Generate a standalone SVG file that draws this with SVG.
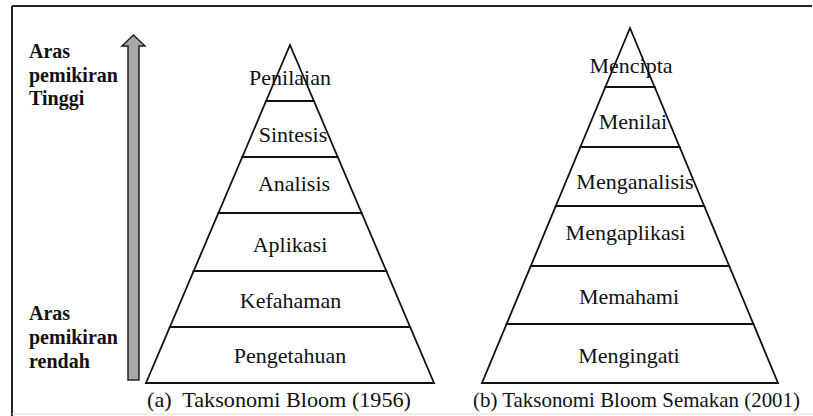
<svg xmlns="http://www.w3.org/2000/svg" width="813" height="416" viewBox="0 0 813 416">
<style>
.lvl{fill:#fff;stroke:#111;stroke-width:1.8;stroke-linejoin:miter}
text{font-family:'Liberation Serif','Times New Roman',Times,'DejaVu Serif',serif;fill:#111}
.t{font-size:22px;text-anchor:middle}
.b{font-size:20px;font-weight:bold}
.cap{font-size:21.5px}
</style>
<rect width="813" height="416" fill="#fff"/>
<g id="frame">
<line x1="12" y1="6" x2="812" y2="6" stroke="#222" stroke-width="2"/>
<line x1="12" y1="6" x2="12" y2="416" stroke="#222" stroke-width="2"/>
<line x1="12" y1="414" x2="813" y2="414" stroke="#ddd" stroke-width="1.2"/>
</g>
<g id="arrow">
<polygon points="133.5,35 145,46 139,46 139,380 128,380 128,46 122,46" fill="#a9a7a7" stroke="#222" stroke-width="1.5"/>
</g>
<g id="label-high">
<text class="b" x="29" y="58">Aras</text>
<text class="b" x="29" y="82">pemikiran</text>
<text class="b" x="29" y="105">Tinggi</text>
</g>
<g id="label-low">
<text class="b" x="29" y="320">Aras</text>
<text class="b" x="29" y="344">pemikiran</text>
<text class="b" x="29" y="368">rendah</text>
</g>
<g id="pyramid-a">
<g id="a-penilaian"><polygon class="lvl" points="290,45 313.9,101 266.1,101"/><text class="t" x="290" y="85">Penilaian</text></g>
<g id="a-sintesis"><polygon class="lvl" points="266.1,101 313.9,101 337.7,157 242.3,157"/><text class="t" x="293" y="142">Sintesis</text></g>
<g id="a-analisis"><polygon class="lvl" points="242.3,157 337.7,157 361.6,213 218.4,213"/><text class="t" x="294" y="191">Analisis</text></g>
<g id="a-aplikasi"><polygon class="lvl" points="218.4,213 361.6,213 386.3,271 193.7,271"/><text class="t" x="290" y="252">Aplikasi</text></g>
<g id="a-kefahaman"><polygon class="lvl" points="193.7,271 386.3,271 410.1,327 169.9,327"/><text class="t" x="290.5" y="308">Kefahaman</text></g>
<g id="a-pengetahuan"><polygon class="lvl" points="169.9,327 410.1,327 434,383 146,383"/><text class="t" x="290" y="363">Pengetahuan</text></g>
</g>
<g id="pyramid-b">
<g id="b-mencipta"><polygon class="lvl" points="630,28 654.6,87 605.4,87"/><text class="t" x="631" y="73">Mencipta</text></g>
<g id="b-menilai"><polygon class="lvl" points="605.4,87 654.6,87 679.6,147 580.4,147"/><text class="t" x="633" y="129">Menilai</text></g>
<g id="b-menganalisis"><polygon class="lvl" points="580.4,147 679.6,147 704.2,206 555.8,206"/><text class="t" x="635" y="189">Menganalisis</text></g>
<g id="b-mengaplikasi"><polygon class="lvl" points="555.8,206 704.2,206 729.2,266 530.8,266"/><text class="t" x="625.5" y="240">Mengaplikasi</text></g>
<g id="b-memahami"><polygon class="lvl" points="530.8,266 729.2,266 753.4,324 506.6,324"/><text class="t" x="629" y="304">Memahami</text></g>
<g id="b-mengingati"><polygon class="lvl" points="506.6,324 753.4,324 778,383 482,383"/><text class="t" x="629" y="363">Mengingati</text></g>
</g>
<g id="captions">
<text class="cap" x="147" y="407" xml:space="preserve" textLength="264" lengthAdjust="spacingAndGlyphs">(a)  Taksonomi Bloom (1956)</text>
<text class="cap" x="473" y="407" textLength="327" lengthAdjust="spacingAndGlyphs">(b) Taksonomi Bloom Semakan (2001)</text>
</g>
</svg>
